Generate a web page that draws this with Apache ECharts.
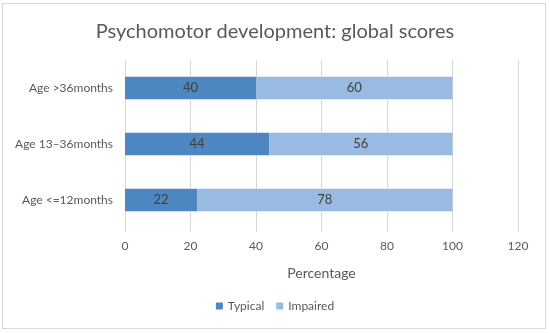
<!DOCTYPE html>
<html><head><meta charset="utf-8">
<script src="https://cdn.jsdelivr.net/npm/echarts@6/dist/echarts.min.js"></script>
<style>html,body{margin:0;padding:0;background:#fff}#c{width:550px;height:333px}
#frame{position:absolute;left:2px;top:3px;width:544px;height:326px;border:1px solid #d9d9d9;box-sizing:border-box;pointer-events:none}</style>
</head><body><div id="c"></div><div id="frame"></div>
<script>
const categories = ['Age <=12months', 'Age 13–36months', 'Age >36months'];
const typical = [22, 44, 40];
const impaired = [78, 56, 60];
const xTicks = [0, 20, 40, 60, 80, 100, 120];

const font = 'Lato, "Open Sans", sans-serif';
const chart = echarts.init(document.getElementById('c'));
chart.setOption({
  animation: false,
  title: { text: 'Psychomotor development: global scores', left: 'center', top: 17,
    textStyle: { fontFamily: font, fontSize: 20, fontWeight: 'normal', color: '#595959' } },
  grid: { left: 125, right: 32, top: 60, bottom: 105, containLabel: false },
  legend: { bottom: 16, left: 'center', itemWidth: 7, itemHeight: 7, itemGap: 12,
    icon: 'rect', textStyle: { fontFamily: font, fontSize: 12, color: '#595959' },
    data: ['Typical', 'Impaired'] },
  xAxis: { type: 'value', min: xTicks[0], max: xTicks[xTicks.length - 1], interval: 20,
    name: 'Percentage', nameLocation: 'middle', nameGap: 38,
    nameTextStyle: { fontFamily: font, fontSize: 14, color: '#595959' },
    axisLine: { show: false },
    axisTick: { show: true, length: 4, lineStyle: { color: '#d9d9d9' } },
    axisLabel: { fontFamily: font, fontSize: 12, color: '#595959', margin: 12 },
    splitLine: { show: true, lineStyle: { color: '#d9d9d9', width: 1 } } },
  yAxis: { type: 'category', data: categories,
    axisLine: { show: false }, axisTick: { show: false },
    axisLabel: { fontFamily: font, fontSize: 12, color: '#595959', margin: 12 } },
  series: [
    { name: 'Typical', type: 'bar', stack: 'a', data: typical, barCategoryGap: '60%',
      itemStyle: { color: '#4D86C1' },
      label: { show: true, position: 'inside', fontFamily: font, fontSize: 13, color: '#404040' } },
    { name: 'Impaired', type: 'bar', stack: 'a', data: impaired, barCategoryGap: '60%',
      itemStyle: { color: '#99BAE1' },
      label: { show: true, position: 'inside', fontFamily: font, fontSize: 13, color: '#404040' } }
  ]
});
</script></body></html>
